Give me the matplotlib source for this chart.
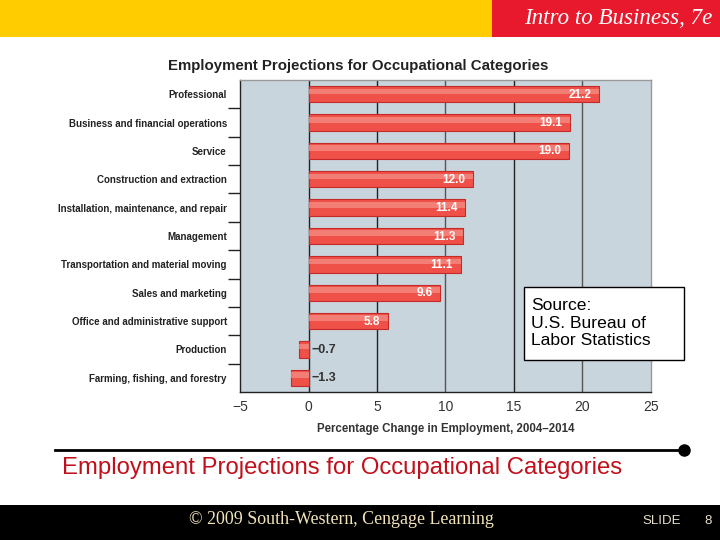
import matplotlib
matplotlib.use("Agg")
import matplotlib.pyplot as plt
from matplotlib.patches import Rectangle
from matplotlib.lines import Line2D
import numpy as np

categories = ["Professional", "Business and financial operations", "Service",
              "Construction and extraction", "Installation, maintenance, and repair",
              "Management", "Transportation and material moving", "Sales and marketing",
              "Office and administrative support", "Production", "Farming, fishing, and forestry"]
values = [21.2, 19.1, 19.0, 12.0, 11.4, 11.3, 11.1, 9.6, 5.8, -0.7, -1.3]
value_labels = ["21.2", "19.1", "19.0", "12.0", "11.4", "11.3", "11.1", "9.6", "5.8", "\u22120.7", "\u22121.3"]
xticks = [-5, 0, 5, 10, 15, 20, 25]
xtick_labels = ["\u22125", "0", "5", "10", "15", "20", "25"]

W, H = 720, 540
fig = plt.figure(figsize=(7.2, 5.4), dpi=100)
fig.patch.set_facecolor("white")

def fx(px):
    return px / W

def fy(py):
    return 1 - py / H

# header bands
fig.patches.append(Rectangle((0, fy(37)), fx(492), 37 / H, transform=fig.transFigure,
                             facecolor="#ffcc00", edgecolor="none", zorder=0))
fig.patches.append(Rectangle((fx(492), fy(37)), fx(720 - 492), 37 / H, transform=fig.transFigure,
                             facecolor="#e8192c", edgecolor="none", zorder=0))
fig.text(fx(712), fy(19), "Intro to Business, 7e", ha="right", va="center",
         fontsize=16.6, style="italic", family="Liberation Serif", color="white")

# footer band
fig.patches.append(Rectangle((0, 0), 1, 35 / H, transform=fig.transFigure,
                             facecolor="black", edgecolor="none", zorder=0))
fig.text(fx(341), fy(519), "\u00a9 2009 South-Western, Cengage Learning", ha="center", va="center",
         fontsize=12.9, family="Liberation Serif", color="#f3e4b8")
fig.text(fx(662), fy(521), "SLIDE", ha="center", va="center",
         fontsize=9.5, family="Liberation Sans", color="#e8e0c8")
fig.text(fx(708), fy(521), "8", ha="center", va="center",
         fontsize=9.5, family="Liberation Sans", color="#e8e0c8")

# axes
ax = fig.add_axes([fx(240), fy(392), fx(651 - 240), (392 - 80) / H])
ax.set_facecolor("#c9d5dc")
y = np.arange(len(categories))
ax.set_xlim(-5, 25)
ax.set_ylim(len(categories) - 0.5, -0.5)

for xv in [0, 5, 10, 15, 20]:
    col = "#222222" if xv in (0, 5, 15) else "#555555"
    ax.axvline(xv, color=col, lw=1.0, zorder=1)

ax.barh(y, values, height=0.58, color="#ef5148", edgecolor="#c42a2a", linewidth=0.8, zorder=3)
ax.barh(y - 0.1, values, height=0.2, color="#f6928a", edgecolor="none", linewidth=0, zorder=4, alpha=0.7)

for yi, v, lab in zip(y, values, value_labels):
    if v > 0:
        ax.text(v - 0.55, yi + 0.02, lab, ha="right", va="center", fontsize=8.5,
                fontweight="bold", color="white", zorder=5, family="Liberation Sans")
    else:
        ax.text(0.25, yi + 0.02, lab, ha="left", va="center", fontsize=9,
                fontweight="bold", color="#333333", zorder=5, family="Liberation Sans")

ax.set_yticks(y)
ax.set_yticklabels(categories, family="Liberation Sans",
                   fontweight="bold", fontsize=7.0, color="#222222")
ax.set_yticks(np.arange(0.5, len(categories) - 0.5, 1), minor=True)
ax.tick_params(axis="y", which="major", length=0, pad=9.5)
ax.tick_params(axis="y", which="minor", length=9, width=1, color="#222222", direction="out")

ax.set_xticks(xticks)
ax.set_xticklabels(xtick_labels, fontsize=10, color="#333333", family="Liberation Sans")
ax.tick_params(axis="x", length=0, pad=6)

for s in ["top", "right"]:
    ax.spines[s].set_color("#999999")
    ax.spines[s].set_linewidth(1)
for s in ["left", "bottom"]:
    ax.spines[s].set_color("#222222")
    ax.spines[s].set_linewidth(1)

ax.set_xlabel("Percentage Change in Employment, 2004\u20132014", fontsize=8.3, fontweight="bold",
              color="#333333", family="Liberation Sans", labelpad=6)

fig.text(fx(358), fy(66), "Employment Projections for Occupational Categories", ha="center", va="center",
         fontsize=10.8, fontweight="bold", color="#222222", family="Liberation Sans")

# source box
fig.patches.append(Rectangle((fx(524), fy(360)), fx(684 - 524), (360 - 287) / H,
                             transform=fig.transFigure, facecolor="white", edgecolor="black",
                             linewidth=1, zorder=5))
fig.text(fx(531), fy(323), "Source:\nU.S. Bureau of\nLabor Statistics", ha="left", va="center",
         fontsize=12.6, color="black", family="Liberation Sans", linespacing=1.2, zorder=6)

# divider line with dot
fig.lines.append(Line2D([fx(55), fx(684)], [fy(450), fy(450)], transform=fig.transFigure,
                        color="black", lw=2))
fig.lines.append(Line2D([fx(684)], [fy(450)], transform=fig.transFigure, marker="o",
                        markersize=8, color="black"))

fig.text(fx(62), fy(468), "Employment Projections for Occupational Categories", ha="left", va="center",
         fontsize=17.2, color="#c0101c", family="Liberation Sans")

fig.savefig("out.png", dpi=100)
